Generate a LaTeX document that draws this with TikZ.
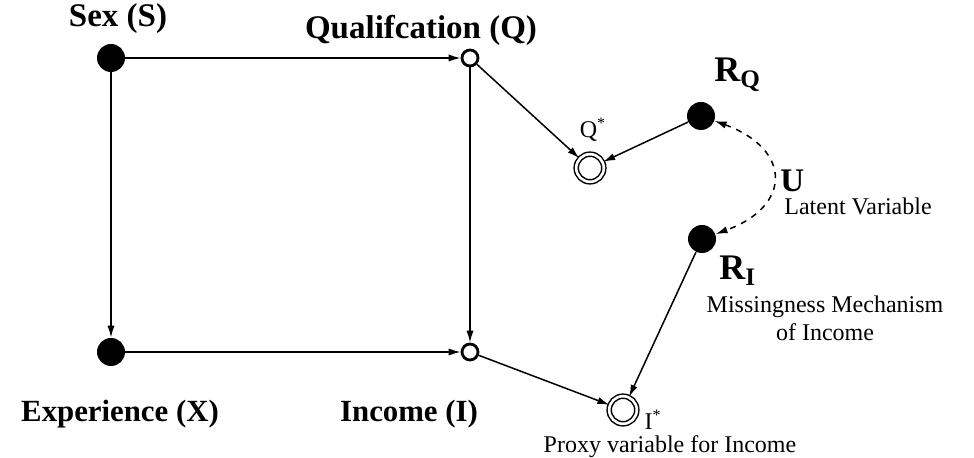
\documentclass[tikz,border=0pt]{standalone}
\usepackage{fontspec}
\setmainfont{Liberation Serif}
\usetikzlibrary{positioning,arrows.meta}

\begin{document}
\begin{tikzpicture}[x=0.5pt, y=-0.5pt,
    obs/.style={circle, fill=black, inner sep=0pt, minimum size=14pt},
    hid/.style={circle, draw, line width=1.4pt, fill=white, inner sep=0pt, minimum size=8pt},
    proxy/.style={circle, draw, double, double distance=1.3pt, line width=0.75pt, inner sep=0pt, minimum size=13.8pt},
    lbl/.style={font=\fontsize{16.5}{19}\selectfont\bfseries, inner sep=0pt},
    blbl/.style={font=\fontsize{15.4}{18}\selectfont\bfseries, inner sep=0pt},
    rlbl/.style={font=\fontsize{18}{21}\selectfont\bfseries, inner sep=0pt, anchor=base west},
    note/.style={font=\fontsize{12}{14}\selectfont, align=center, inner sep=0pt},
    edge/.style={-{Latex[length=6pt, width=3.6pt]}, line width=0.75pt}]
  \useasboundingbox (0,0) rectangle (974,458);

  % Causal graph (left)
  \node[obs] (s) at (111, 58) {};
  \node[hid] (q) at (470, 58) {};
  \node[obs] (x) at (111, 352) {};
  \node[hid] (i) at (470, 352) {};
  \node[lbl] (slbl) at (118, 19) {Sex (S)};
  \node[lbl] (qlbl) at (421, 30) {Qualifcation (Q)};
  \node[blbl] (xlbl) at (120, 414) {Experience (X)};
  \node[blbl] (ilbl) at (409, 414) {Income (I)};
  \draw[edge] (s) -- (q);
  \draw[edge] (s) -- (x);
  \draw[edge] (x) -- (i);
  \draw[edge] (q) -- (i);

  % Proxies and missingness (right)
  \node[proxy] (qs) at (590, 168) {};
  \node[proxy] (is) at (623, 410) {};
  \node[obs] (rq) at (701, 116) {};
  \node[obs] (ri) at (702, 239) {};
  \node[note] (qslbl) at (593, 130) {Q\textsuperscript{*}};
  \node[note] (islbl) at (653, 420) {I\textsuperscript{*}};
  \node[note] (proxylbl) at (670, 447) {Proxy variable for Income};
  \node[rlbl] (rqlbl) at (714, 82) {R\textsubscript{Q}};
  \node[rlbl] (rilbl) at (719, 280) {R\textsubscript{I}};
  \node[lbl, anchor=base west] (ulbl) at (780, 192) {U};
  \node[note, anchor=base west] (ulatent) at (784, 215) {Latent Variable};
  \node[note] (rimech) at (825, 318) {Missingness Mechanism\\of Income};
  \draw[edge] (q) -- (qs);
  \draw[edge] (i) -- (is);
  \draw[edge] (rq) -- (qs);
  \draw[edge] (ri) -- (is);
  \draw[edge, dashed, {Latex[length=6pt, width=3.6pt]}-{Latex[length=6pt, width=3.6pt]}]
    (rq) to[out=-20, in=20, looseness=1.85] (ri);
\end{tikzpicture}
\end{document}
